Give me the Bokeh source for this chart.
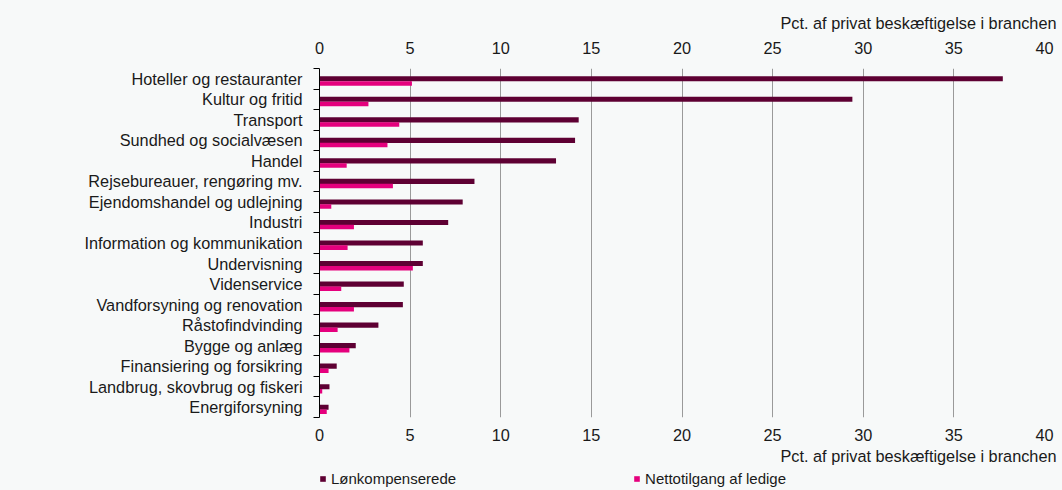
import numpy as np
from bokeh.plotting import figure
from bokeh.layouts import column
from bokeh.models import (Range1d, LinearAxis, FixedTicker, Title, Legend, LegendItem,
                          ColumnDataSource)
from bokeh.transform import dodge
from bokeh.embed import file_html
from bokeh.resources import INLINE

categories = ["Hoteller og restauranter", "Kultur og fritid", "Transport",
              "Sundhed og socialvæsen", "Handel", "Rejsebureauer, rengøring mv.",
              "Ejendomshandel og udlejning", "Industri", "Information og kommunikation",
              "Undervisning", "Videnservice", "Vandforsyning og renovation",
              "Råstofindvinding", "Bygge og anlæg", "Finansiering og forsikring",
              "Landbrug, skovbrug og fiskeri", "Energiforsyning"]
loenkomp = [37.7, 29.4, 14.3, 14.1, 13.05, 8.55, 7.9, 7.1, 5.7, 5.7, 4.65, 4.6,
            3.25, 2.0, 0.95, 0.55, 0.5]
netto = [5.1, 2.7, 4.4, 3.75, 1.5, 4.05, 0.65, 1.9, 1.55, 5.15, 1.2, 1.9,
         1.0, 1.65, 0.5, 0.15, 0.4]
x_ticks = [0, 5, 10, 15, 20, 25, 30, 35, 40]
axis_title = "Pct. af privat beskæftigelse i branchen"
series_names = ["Lønkompenserede", "Nettotilgang af ledige"]

n = len(categories)
ypos = list(range(n - 1, -1, -1))
src = ColumnDataSource(dict(y=ypos, lon=loenkomp, net=netto, cat=categories))

FONT = "Liberation Sans"
FS = "16.3px"
BG = "#f7f9f9"
DARK = "#5e0033"
PINK = "#e5007d"
TXT = "#1a1a1a"

p = figure(frame_width=725, frame_height=349, output_backend="svg", toolbar_location=None,
           x_range=Range1d(0, 40), y_range=Range1d(-0.5, n - 0.5),
           x_axis_location="above", min_border_left=319, min_border_right=18,
           min_border_top=68, min_border_bottom=53,
           background_fill_color=BG, border_fill_color=BG, outline_line_color=None)

r1 = p.hbar(y=dodge("y", 0.0, range=p.y_range), right="lon", left=0, height=0.25,
            source=src, color=DARK, line_color=None)
r2 = p.hbar(y=dodge("y", -0.225, range=p.y_range), right="net", left=0, height=0.22,
            source=src, color=PINK, line_color=None)

def style_x(ax, standoff):
    ax.ticker = FixedTicker(ticks=x_ticks)
    ax.axis_line_color = None
    ax.major_tick_line_color = None
    ax.major_tick_out = 0
    ax.major_tick_in = 0
    ax.minor_tick_line_color = None
    ax.minor_tick_out = 0
    ax.major_label_text_font = FONT
    ax.major_label_text_font_size = FS
    ax.major_label_text_color = TXT
    ax.major_label_standoff = standoff

top = p.xaxis[0]
style_x(top, 15)
bottom = LinearAxis()
style_x(bottom, 11)
p.add_layout(bottom, "below")

yax = p.yaxis[0]
yax.ticker = FixedTicker(ticks=ypos, minor_ticks=[i - 0.5 for i in range(n + 1)])
yax.major_label_overrides = {y: c for y, c in zip(ypos, categories)}
yax.major_tick_line_color = None
yax.major_tick_out = 0
yax.major_tick_in = 0
yax.minor_tick_line_color = "black"
yax.minor_tick_out = 6
yax.minor_tick_in = 0
yax.axis_line_color = "black"
yax.major_label_standoff = 11
yax.major_label_text_font = FONT
yax.major_label_text_font_size = FS
yax.major_label_text_color = TXT

p.ygrid.grid_line_color = None
p.xgrid.ticker = FixedTicker(ticks=x_ticks[1:])
p.xgrid.grid_line_color = "#9a9a9a"
p.xgrid.grid_line_width = 1

for loc, so in (("above", 13), ("below", 3)):
    t = Title(text=axis_title, align="right", text_font=FONT, text_font_size=FS,
              text_font_style="normal", text_color=TXT, offset=-12, standoff=so)
    p.add_layout(t, loc)

# legend strip below the chart (frame starts where the legend starts)
p2 = figure(width=1062, height=20, output_backend="svg", toolbar_location=None,
            x_axis_type=None, y_axis_type=None, min_border=0, min_border_left=200,
            x_range=Range1d(0, 1), y_range=Range1d(0, 1),
            background_fill_color=BG, border_fill_color=BG, outline_line_color=None)
p2.grid.visible = False
l1 = p2.hbar(y=[0], right=[0], left=[0], height=0.5, color=DARK, line_color=None)
l2 = p2.hbar(y=[0], right=[0], left=[0], height=0.5, color=PINK, line_color=None)
legend = Legend(items=[LegendItem(label=series_names[0], renderers=[l1]),
                       LegendItem(label=series_names[1], renderers=[l2])],
                orientation="horizontal", location="top_left",
                background_fill_alpha=0, border_line_color=None, padding=0, margin=0,
                glyph_width=7, glyph_height=7, label_standoff=5, spacing=177,
                label_height=14, label_text_line_height=1.0,
                label_text_font=FONT, label_text_font_size="15px", label_text_color=TXT)
p2.add_layout(legend, "center")

layout = column(p, p2, spacing=0, background=BG)
open("out.html", "w").write(file_html(layout, INLINE))
